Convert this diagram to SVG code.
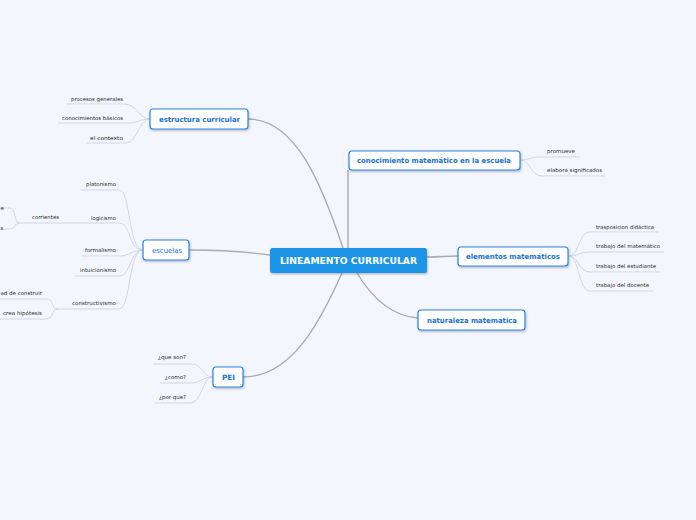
<svg xmlns="http://www.w3.org/2000/svg" width="696" height="520" viewBox="0 0 696 520">
<defs>
<filter id="sh" x="-20%" y="-30%" width="140%" height="170%">
<feDropShadow dx="0.6" dy="1.2" stdDeviation="0.8" flood-color="#000" flood-opacity="0.28"/>
</filter>
</defs>
<style>
.main{fill:none;stroke:#a9abb0;stroke-width:1.4}
.sub{fill:none;stroke:#cfd3db;stroke-width:0.9}
.box{fill:#fff;stroke:#2b86e0;stroke-width:1.2}
.root{fill:#1b95e7}
.nt{font-family:"DejaVu Sans",Verdana,sans-serif;font-weight:bold;font-size:7.2px;fill:#1a74d2}
.rt{font-family:"DejaVu Sans",Verdana,sans-serif;font-weight:bold;font-size:9.2px;fill:#fff}
.lt{font-family:"DejaVu Sans",Verdana,sans-serif;font-size:5.4px;fill:#2b2b2b}
</style>
<rect width="696" height="520" fill="#f3f6fd"/>
<g id="connectors">
<path class="main" d="M343,248 C322,185 296,119 248,119"/>
<path class="main" d="M348,248 V170"/>
<path class="main" d="M427,257 C440,257 445,256 458,256"/>
<path class="main" d="M357,273 C372,298 392,316 418,318"/>
<path class="main" d="M270,255 C240,251 215,250 189,250"/>
<path class="main" d="M342,273 C320,322 292,377 243,377"/>
<path class="sub" d="M150,119 C139,119 137,104 124,104 H66"/>
<path class="sub" d="M150,119 C139,119 139,123 128,123 H58"/>
<path class="sub" d="M150,119 C139,119 137,143 126,143 H86"/>
<path class="sub" d="M143,250 C128,250 131,190 119,190 H81"/>
<path class="sub" d="M143,250 C128,250 131,223 119,223 H20"/>
<path class="sub" d="M143,250 C132,250 130,256 119,256 H81"/>
<path class="sub" d="M143,250 C130,250 131,276 119,276 H75"/>
<path class="sub" d="M143,250 C128,250 131,309 119,309 H58"/>
<path class="sub" d="M20,223 C13,223 17,208 9,208 H0"/>
<path class="sub" d="M20,223 C13,223 17,229 9,229 H0"/>
<path class="sub" d="M58,309 C50,309 55,299 46,299 H0"/>
<path class="sub" d="M58,309 C50,309 55,319 46,319 H0"/>
<path class="sub" d="M213,377 C202,377 203,364 192,364 H153"/>
<path class="sub" d="M213,377 C202,377 201,383 190,383 H160"/>
<path class="sub" d="M213,377 C202,377 202,403 190,403 H155"/>
<path class="sub" d="M520,160 C530,160 530,157 540,157 H580"/>
<path class="sub" d="M520,160 C531,160 530,176 542,176 H606"/>
<path class="sub" d="M568,256 C580,256 578,232 590,232 H658"/>
<path class="sub" d="M568,256 C580,256 578,252 590,252 H664"/>
<path class="sub" d="M568,256 C580,256 578,272 590,272 H660"/>
<path class="sub" d="M568,256 C580,256 578,291 590,291 H653"/>
</g>
<g id="root">
<rect class="root" x="270" y="248" width="157" height="25" rx="2.5" filter="url(#sh)"/>
<text class="rt" x="280" y="264.3" textLength="137" lengthAdjust="spacingAndGlyphs">LINEAMENTO CURRICULAR</text>
</g>
<g id="estructura">
<rect class="box" x="150" y="109" width="98" height="20" rx="3" filter="url(#sh)"/>
<text class="nt" x="159" y="121.6" textLength="81" lengthAdjust="spacingAndGlyphs">estructura curricular</text>
</g>
<g id="conocimiento">
<rect class="box" x="349" y="151" width="171" height="19" rx="3" filter="url(#sh)"/>
<text class="nt" x="357" y="163" textLength="154" lengthAdjust="spacingAndGlyphs">conocimiento matemático en la escuela</text>
</g>
<g id="elementos">
<rect class="box" x="458" y="247" width="110" height="19" rx="3" filter="url(#sh)"/>
<text class="nt" x="466" y="259" textLength="94" lengthAdjust="spacingAndGlyphs">elementos matemáticos</text>
</g>
<g id="naturaleza">
<rect class="box" x="418" y="310" width="107" height="20" rx="3" filter="url(#sh)"/>
<text class="nt" x="427" y="322.6" textLength="90" lengthAdjust="spacingAndGlyphs">naturaleza matematica</text>
</g>
<g id="escuelas">
<rect class="box" x="143" y="240" width="46" height="20" rx="3" filter="url(#sh)"/>
<text class="nt" x="152" y="253" textLength="30" lengthAdjust="spacingAndGlyphs" style="font-weight:normal">escuelas</text>
</g>
<g id="pei">
<rect class="box" x="213" y="367" width="30" height="20" rx="3" filter="url(#sh)"/>
<text class="nt" x="222" y="380" textLength="13" lengthAdjust="spacingAndGlyphs">PEI</text>
</g>
<g id="leaves">
<text class="lt" x="71" y="101" textLength="52" lengthAdjust="spacingAndGlyphs">procesos generales</text>
<text class="lt" x="62" y="120" textLength="61" lengthAdjust="spacingAndGlyphs">conocimientos básicos</text>
<text class="lt" x="90" y="140" textLength="33" lengthAdjust="spacingAndGlyphs">el contexto</text>
<text class="lt" x="86" y="186" textLength="30" lengthAdjust="spacingAndGlyphs">platonismo</text>
<text class="lt" x="91" y="220" textLength="25" lengthAdjust="spacingAndGlyphs">logicismo</text>
<text class="lt" x="32" y="219" textLength="27" lengthAdjust="spacingAndGlyphs">corrientes</text>
<text class="lt" x="85" y="252" textLength="31" lengthAdjust="spacingAndGlyphs">formalismo</text>
<text class="lt" x="80" y="272" textLength="36" lengthAdjust="spacingAndGlyphs">intuicionismo</text>
<text class="lt" x="72" y="305" textLength="44" lengthAdjust="spacingAndGlyphs">constructivismo</text>
<text class="lt" x="0.5" y="210">e</text>
<text class="lt" x="0.5" y="230">s</text>
<text class="lt" x="0.5" y="295" textLength="41.5" lengthAdjust="spacingAndGlyphs">ad de construir</text>
<text class="lt" x="3" y="315" textLength="39" lengthAdjust="spacingAndGlyphs">crea hipótesis</text>
<text class="lt" x="158" y="359" textLength="28" lengthAdjust="spacingAndGlyphs">¿que son?</text>
<text class="lt" x="165" y="379" textLength="21" lengthAdjust="spacingAndGlyphs">¿como?</text>
<text class="lt" x="159" y="399" textLength="27" lengthAdjust="spacingAndGlyphs">¿por que?</text>
<text class="lt" x="547" y="153" textLength="28" lengthAdjust="spacingAndGlyphs">promueve</text>
<text class="lt" x="547" y="172" textLength="55" lengthAdjust="spacingAndGlyphs">elabora significados</text>
<text class="lt" x="596" y="229" textLength="58" lengthAdjust="spacingAndGlyphs">trasposicion didáctica</text>
<text class="lt" x="596" y="248" textLength="64" lengthAdjust="spacingAndGlyphs">trabajo del matemático</text>
<text class="lt" x="596" y="268" textLength="60" lengthAdjust="spacingAndGlyphs">trabajo del estudiante</text>
<text class="lt" x="596" y="287" textLength="53" lengthAdjust="spacingAndGlyphs">trabajo del docente</text>
</g>
</svg>
